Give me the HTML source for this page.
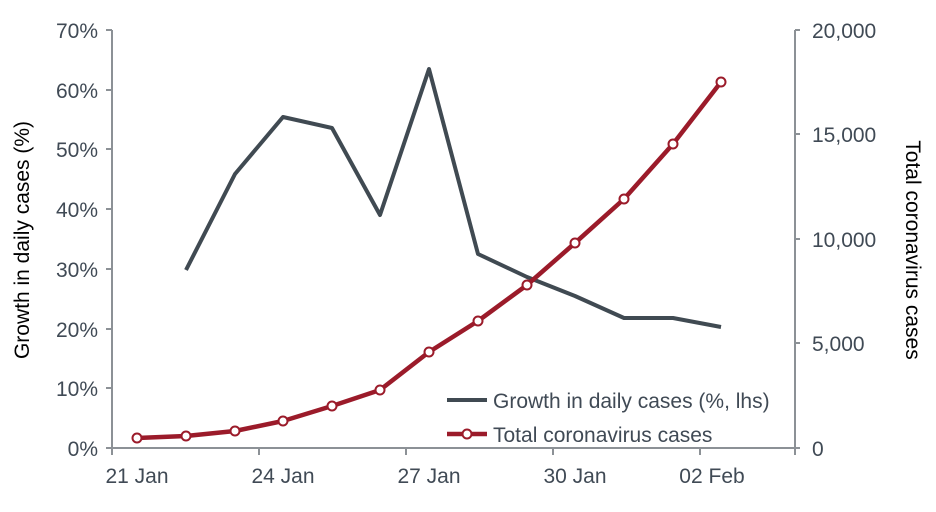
<!DOCTYPE html>
<html><head><style>body{margin:0;background:#fff}</style></head><body>
<svg width="936" height="507" xmlns="http://www.w3.org/2000/svg" font-family="Liberation Sans, Arial, sans-serif">
<g stroke="#8c9196" stroke-width="2" fill="none">
<line x1="112" y1="30" x2="112" y2="448"/>
<line x1="111" y1="448" x2="796" y2="448"/>
<line x1="795" y1="30" x2="795" y2="448"/>
<path d="M106 30H112M106 90H112M106 149H112M106 209H112M106 269H112M106 329H112M106 388H112M106 448H112"/>
<path d="M795 30H800M795 134H800M795 239H800M795 343H800M795 448H800"/>
<path d="M112 448V455M259 448V455M406 448V455M553 448V455M700 448V455M795 448V455"/>
</g>
<g fill="#404a55" font-size="21" text-anchor="end">
<text x="98" y="38">70%</text><text x="98" y="98">60%</text><text x="98" y="157">50%</text><text x="98" y="217">40%</text><text x="98" y="277">30%</text><text x="98" y="337">20%</text><text x="98" y="396">10%</text><text x="98" y="456">0%</text>
</g>
<g fill="#404a55" font-size="21" text-anchor="start">
<text x="812" y="38">20,000</text><text x="812" y="142">15,000</text><text x="812" y="247">10,000</text><text x="812" y="351">5,000</text><text x="812" y="456">0</text>
</g>
<g fill="#404a55" font-size="21" text-anchor="middle">
<text x="137" y="483">21 Jan</text><text x="283" y="483">24 Jan</text><text x="429" y="483">27 Jan</text><text x="575" y="483">30 Jan</text><text x="712" y="483">02 Feb</text>
</g>
<text transform="translate(29,240) rotate(-90)" font-size="21" fill="#000" text-anchor="middle">Growth in daily cases (%)</text>
<text transform="translate(906,250) rotate(90)" font-size="21" fill="#000" text-anchor="middle">Total coronavirus cases</text>
<polyline fill="none" stroke="#404a52" stroke-width="4" stroke-linejoin="round" points="186,270 235,174 283,117 332,128 380,215 429,69 478,254 527,277 575,296 624,318 673,318 721,327"/>
<polyline fill="none" stroke="#9b1b2a" stroke-width="4.5" stroke-linejoin="round" points="137,438 186,436 235,431 283,421 332,406 380,390 429,352 478,321 527,285 575,243 624,199 673,144 721,82"/>
<g fill="#fff" stroke="#9b1b2a" stroke-width="2">
<circle cx="137" cy="438" r="4.5"/><circle cx="186" cy="436" r="4.5"/><circle cx="235" cy="431" r="4.5"/><circle cx="283" cy="421" r="4.5"/><circle cx="332" cy="406" r="4.5"/><circle cx="380" cy="390" r="4.5"/><circle cx="429" cy="352" r="4.5"/><circle cx="478" cy="321" r="4.5"/><circle cx="527" cy="285" r="4.5"/><circle cx="575" cy="243" r="4.5"/><circle cx="624" cy="199" r="4.5"/><circle cx="673" cy="144" r="4.5"/><circle cx="721" cy="82" r="4.5"/>
</g>
<line x1="447" y1="400" x2="487" y2="400" stroke="#404a52" stroke-width="4"/>
<text x="493" y="408" font-size="21" fill="#404a55">Growth in daily cases (%, lhs)</text>
<line x1="447" y1="434" x2="487" y2="434" stroke="#9b1b2a" stroke-width="4.5"/>
<circle cx="467" cy="434" r="4.5" fill="#fff" stroke="#9b1b2a" stroke-width="2"/>
<text x="493" y="442" font-size="21" fill="#404a55">Total coronavirus cases</text>
</svg>
</body></html>
